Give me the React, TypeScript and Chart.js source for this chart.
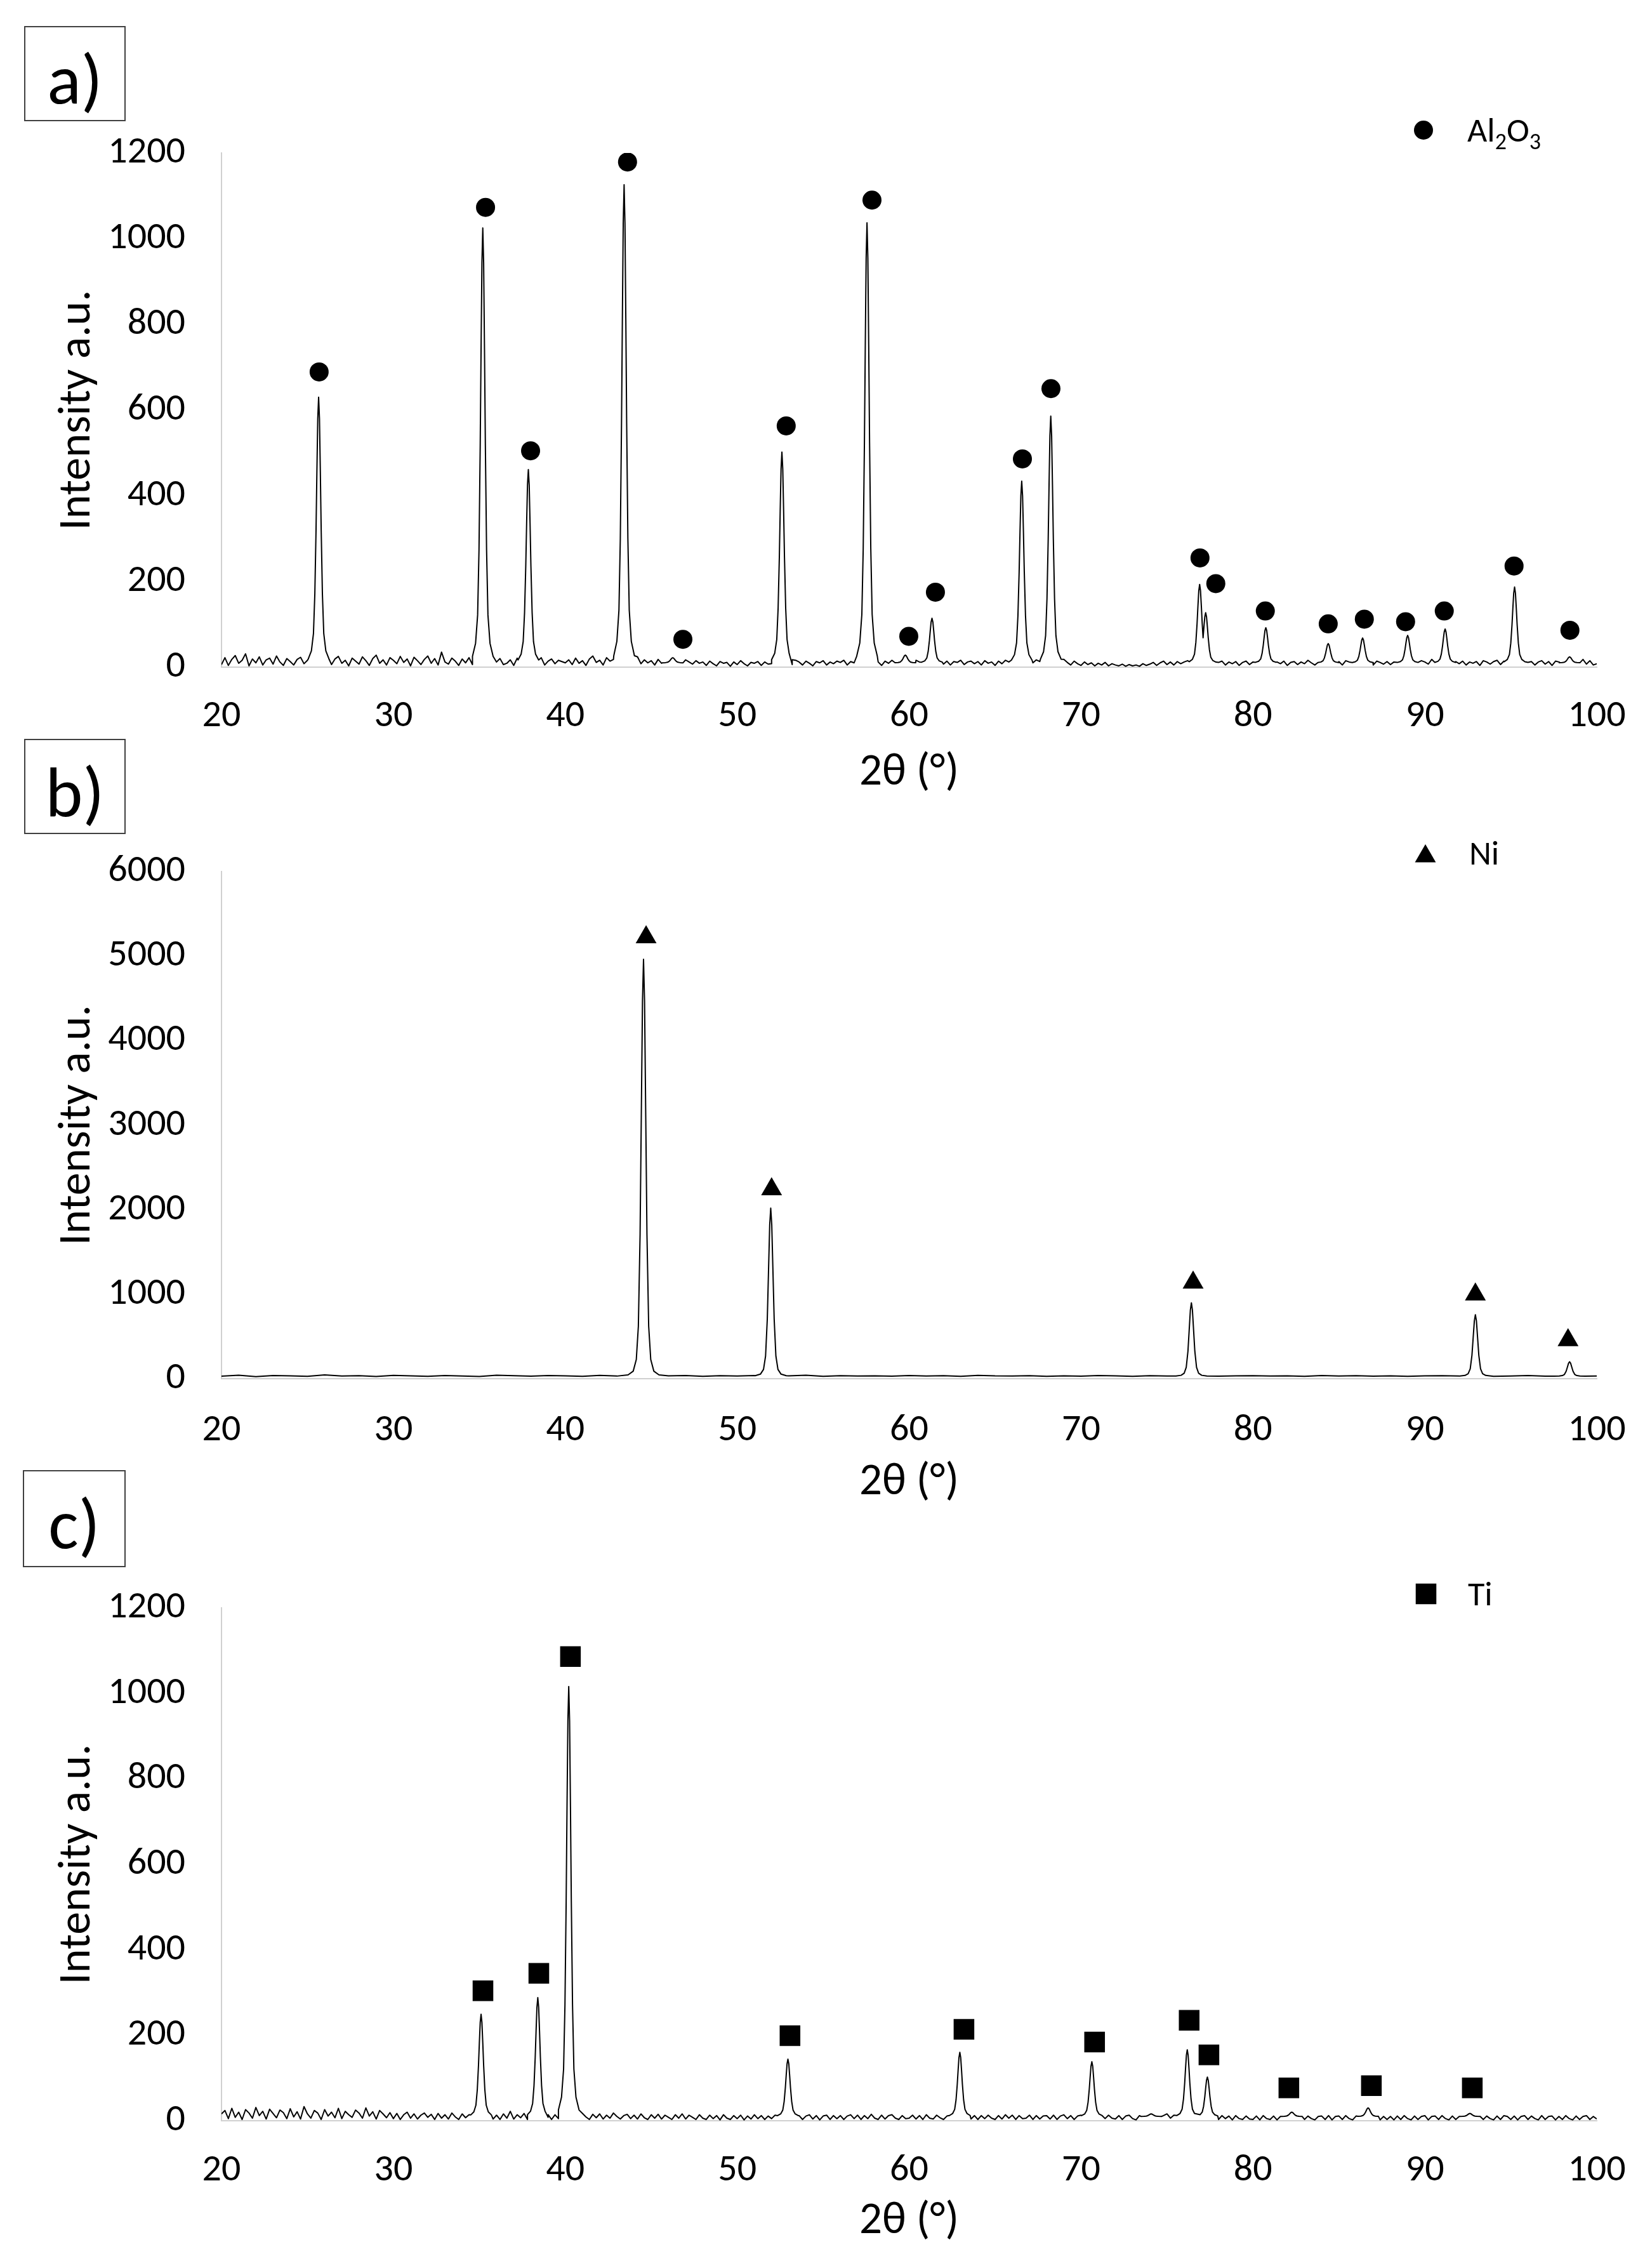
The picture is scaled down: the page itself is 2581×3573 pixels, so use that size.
import React, { useEffect, useRef } from 'react';
import { Chart, registerables } from 'chart.js';

Chart.register(...registerables);

const FONT = 'Carlito, Calibri, Lato, "Open Sans", sans-serif';
const AXIS_COLOR = '#d0d0d0';
const TEXT_COLOR = '#000000';

// ---------- shared axis values ----------
const X_MIN = 20;
const X_MAX = 100;
const X_STEP = 10;
const X_TITLE = '2θ (°)';
const Y_TITLE = 'Intensity a.u.';

// ---------- peak shape (offset in degrees, fraction of peak height) ----------
const PEAK_OFFSETS = [-0.6, -0.42, -0.3, -0.22, -0.15, -0.1, -0.05, 0, 0.05, 0.1, 0.15, 0.22, 0.3, 0.42, 0.6];
const PEAK_SHAPE = [0.015, 0.045, 0.11, 0.26, 0.5, 0.72, 0.92, 1, 0.92, 0.72, 0.5, 0.26, 0.11, 0.045, 0.015];
const NI_PEAK_OFFSETS = [-0.9, -0.6, -0.42, -0.3, -0.2, -0.13, -0.06, 0, 0.06, 0.13, 0.2, 0.3, 0.42, 0.6, 0.9];
const NI_PEAK_SHAPE = [0.003, 0.012, 0.04, 0.12, 0.34, 0.62, 0.9, 1, 0.9, 0.62, 0.34, 0.12, 0.04, 0.012, 0.003];

// ---------- panel a : Al2O3 ----------
const A_PHASE = 'Al2O3';
const A_Y_MAX = 1200;
const A_Y_STEP = 200;
const A_BASE_START = 20;
const A_BASE_STEP = 0.2;
const A_BASELINE = [
  6, 22, 4, 18, 27, 9, 16, 31, 3, 19, 10, 24, 5, 17, 21, 7, 26, 12, 4, 20,
  13, 5, 18, 23, 8, 16, 12, 20, 4, 22, 11, 17, 6, 19, 25, 9, 16, 3, 21, 14,
  7, 24, 15, 4, 20, 28, 9, 17, 5, 22, 16, 8, 25, 11, 19, 3, 23, 15, 6, 18,
  26, 9, 20, 5, 35, 12, 7, 21, 14, 4, 19, 10, 22, 6, 16, 24, 8, 18, 5, 15,
  12, 20, 6, 9, 17, 4, 21, 13, 16, 7, 18, 12, 15, 22, 5, 14, 19, 8, 16, 13,
  10, 17, 6, 21, 9, 15, 4, 19, 26, 11, 16, 5, 22, 14, 18, 7, 13, 20, 12, 15,
  19, 24, 8, 17, 10, 15, 5, 18, 9, 14, 20, 6, 16, 13, 4, 17, 12, 7, 15, 9,
  12, 4, 14, 8, 3, 13, 9, 11, 2, 12, 6, 15, 8, 3, 11, 9, 13, 4, 12, 7,
  8, 13, 4, 15, 11, 14, 6, 16, 12, 5, 14, 9, 3, 13, 10, 15, 5, 12, 8, 14,
  11, 16, 5, 13, 10, 18, 7, 12, 17, 6, 15, 12, 4, 14, 9, 16, 13, 6, 15, 12,
  14, 6, 16, 12, 18, 8, 13, 4, 15, 11, 7, 14, 5, 13, 11, 16, 6, 12, 14, 8,
  13, 5, 15, 9, 12, 4, 14, 8, 16, 12, 6, 13, 9, 15, 5, 14, 10, 17, 13, 7,
  12, 15, 6, 14, 9, 18, 11, 5, 14, 8, 4, 12, 6, 10, 3, 9, 5, 11, 3, 8,
  5, 3, 7, 2, 6, 3, 5, 2, 8, 4, 7, 11, 4, 10, 14, 6, 12, 5, 13, 8,
  12, 15, 8, 18, 14, 20, 17, 22, 16, 9, 11, 14, 5, 12, 8, 13, 4, 11, 14, 6,
  12, 6, 15, 9, 19, 13, 5, 12, 8, 14, 4, 11, 13, 6, 12, 8, 16, 10, 5, 13,
  9, 12, 14, 6, 9, 13, 5, 15, 12, 4, 14, 8, 13, 6, 12, 5, 14, 11, 7, 13,
  6, 12, 9, 14, 5, 13, 8, 12, 4, 15, 12, 7, 18, 13, 6, 14, 9, 12, 5, 13,
  8, 14, 5, 12, 9, 13, 4, 15, 12, 7, 13, 16, 6, 14, 9, 13, 5, 15, 12, 8,
  11, 13, 5, 12, 15, 7, 13, 4, 14, 12, 6, 13, 16, 9, 24, 14, 18, 7, 15, 5,
  8,
];
const A_PEAK_BASE = 10;
const A_PEAK_POS = [25.65, 35.2, 37.85, 43.42, 46.25, 52.6, 57.55, 59.78, 61.33, 66.55, 68.24, 76.9, 77.25, 80.75, 84.38, 86.38, 89.0, 91.18, 95.22, 98.42];
const A_PEAK_INT = [630, 1025, 461, 1126, 22, 502, 1037, 28, 114, 434, 586, 193, 127, 92, 55, 68, 74, 89, 187, 24];
const A_MARK_X = [25.68, 35.36, 37.98, 43.62, 46.84, 52.85, 57.84, 59.98, 61.53, 66.59, 68.25, 76.92, 77.84, 80.72, 84.38, 86.48, 88.88, 91.13, 95.19, 98.44];
const A_MARK_Y = [689, 1073, 505, 1179, 65, 563, 1090, 72, 175, 486, 650, 255, 195, 131, 101, 112, 106, 131, 236, 86];

// ---------- panel b : Ni ----------
const B_PHASE = 'Ni';
const B_Y_MAX = 6000;
const B_Y_STEP = 1000;
const B_BASE_START = 20;
const B_BASE_STEP = 1;
const B_BASELINE = [
  30, 42, 25, 38, 33, 28, 45, 31, 36, 27, 40, 34, 29, 37, 32, 26, 41, 35, 30, 38,
  33, 29, 39, 31, 36, 30, 34, 38, 28, 35, 32, 37, 30, 33, 41, 29, 36, 31, 34, 30,
  38, 32, 35, 29, 40, 33, 31, 36, 28, 34, 30, 37, 33, 29, 35, 31, 38, 32, 30, 34,
  36, 31, 33, 29, 37, 32, 35, 30, 34, 28, 33, 36, 31, 35, 29, 32, 37, 30, 33, 31,
  32,
];
const B_PEAK_BASE = 30;
const B_PEAK_POS = [44.55, 51.95, 76.42, 92.94, 98.42];
const B_PEAK_INT = [4962, 2018, 898, 757, 200];
const B_MARK_X = [44.7, 52.0, 76.52, 92.94, 98.33];
const B_MARK_Y = [5222, 2242, 1137, 997, 457];

// ---------- panel c : Ti ----------
const C_PHASE = 'Ti';
const C_Y_MAX = 1200;
const C_Y_STEP = 200;
const C_BASE_START = 20;
const C_BASE_STEP = 0.2;
const C_BASELINE = [
  16, 24, 5, 29, 8, 20, 3, 26, 18, 6, 31, 12, 22, 4, 27, 17, 7, 25, 19, 5,
  28, 9, 21, 4, 33, 16, 6, 24, 18, 3, 26, 11, 20, 7, 29, 5, 22, 14, 8, 25,
  18, 6, 30, 11, 21, 4, 24, 16, 7, 19, 5, 17, 3, 14, 20, 6, 16, 4, 13, 18,
  8, 15, 3, 17, 6, 14, 4, 18, 9, 3, 16, 7, 14, 2, 13, 15, 5, 10, 14, 4,
  13, 3, 16, 6, 22, 4, 14, 7, 17, 3, 15, 6, 13, 4, 16, 8, 3, 14, 5, 13,
  7, 15, 4, 14, 6, 17, 9, 3, 15, 7, 16, 4, 13, 6, 18, 10, 4, 12, 15, 5,
  13, 4, 16, 7, 3, 14, 6, 15, 4, 13, 8, 3, 14, 6, 16, 4, 13, 8, 3, 14,
  6, 3, 13, 5, 12, 2, 14, 6, 3, 12, 5, 13, 2, 11, 4, 14, 5, 12, 3, 11,
  5, 13, 3, 12, 6, 2, 13, 5, 12, 3, 11, 14, 4, 12, 2, 11, 13, 3, 12, 5,
  12, 3, 11, 14, 5, 13, 3, 12, 5, 15, 6, 3, 13, 4, 12, 14, 6, 3, 12, 5,
  6, 13, 4, 12, 3, 14, 6, 4, 13, 7, 3, 11, 14, 5, 12, 3, 13, 6, 4, 12,
  3, 12, 5, 13, 6, 3, 12, 4, 14, 6, 13, 3, 12, 5, 6, 13, 3, 12, 4, 11,
  12, 4, 13, 3, 11, 14, 5, 12, 3, 11, 13, 4, 12, 2, 11, 3, 12, 5, 13, 6,
  4, 12, 3, 11, 13, 5, 2, 12, 4, 14, 6, 3, 13, 5, 12, 16, 6, 13, 4, 14,
  12, 4, 13, 6, 16, 3, 12, 5, 11, 13, 3, 12, 5, 11, 2, 12, 5, 3, 11, 4,
  3, 11, 2, 12, 5, 3, 11, 2, 10, 12, 3, 11, 5, 2, 12, 3, 11, 5, 2, 10,
  11, 3, 12, 2, 10, 11, 3, 12, 5, 2, 11, 13, 3, 10, 12, 3, 11, 2, 10, 3,
  10, 2, 11, 3, 12, 5, 2, 11, 3, 10, 12, 2, 10, 11, 3, 12, 5, 2, 11, 3,
  10, 12, 3, 11, 2, 10, 12, 3, 11, 5, 2, 11, 3, 12, 10, 3, 11, 2, 10, 12,
  3, 11, 5, 2, 12, 3, 10, 11, 2, 10, 3, 12, 5, 2, 11, 3, 10, 12, 3, 10,
  4,
];
const C_PEAK_BASE = 10;
const C_PEAK_POS = [35.1, 38.4, 40.2, 52.95, 62.95, 70.63, 74.08, 76.18, 77.35, 82.26, 86.7, 92.62];
const C_PEAK_INT = [249, 288, 1016, 144, 160, 138, 16, 166, 102, 20, 30, 17];
const C_MARK_X = [35.21, 38.46, 40.3, 53.07, 63.19, 70.79, 76.29, 77.44, 82.09, 86.89, 92.76];
const C_MARK_Y = [304, 345, 1086, 199, 214, 184, 235, 154, 77, 82, 77];

type Pt = { x: number; y: number };

function buildProfile(
  baseline: number[], start: number, step: number,
  pos: number[], inten: number[], offs: number[], shape: number[], base: number
): Pt[] {
  const reach = Math.max(...offs.map(Math.abs));
  const pts: Pt[] = [];
  baseline.forEach((v, i) => {
    const x = +(start + i * step).toFixed(3);
    if (pos.every((p) => Math.abs(x - p) >= reach)) pts.push({ x, y: v });
  });
  pos.forEach((p, k) => {
    offs.forEach((o, j) => {
      const x = p + o;
      const nearest = pos.every((q, m) => m === k || Math.abs(x - q) > Math.abs(o));
      if (nearest) pts.push({ x, y: base + (inten[k] - base) * shape[j] });
    });
  });
  return pts.sort((a, b) => a.x - b.x);
}

function zipPts(xs: number[], ys: number[]): Pt[] {
  return xs.map((x, i) => ({ x, y: ys[i] }));
}

function drawMarker(ctx: CanvasRenderingContext2D, style: string, x: number, y: number, r: number) {
  ctx.beginPath();
  if (style === 'circle') {
    ctx.arc(x, y, r, 0, Math.PI * 2);
  } else if (style === 'triangle') {
    ctx.moveTo(x, y - r);
    ctx.lineTo(x + r * 0.866, y + r * 0.5);
    ctx.lineTo(x - r * 0.866, y + r * 0.5);
    ctx.closePath();
  } else {
    const s = r * Math.SQRT1_2;
    ctx.rect(x - s, y - s, 2 * s, 2 * s);
  }
  ctx.fill();
}

const phaseLegend = {
  id: 'phaseLegend',
  afterDraw(chart: any, _args: any, opts: any) {
    const ctx: CanvasRenderingContext2D = chart.ctx;
    const ds = chart.data.datasets[1];
    ctx.save();
    ctx.fillStyle = '#000';
    drawMarker(ctx, opts.style, opts.x, opts.y, opts.radius);
    ctx.fillStyle = TEXT_COLOR;
    ctx.textBaseline = 'alphabetic';
    ctx.textAlign = 'left';
    let tx = opts.textX;
    const by = opts.textY;
    for (const ch of String(ds.label)) {
      const sub = /[0-9]/.test(ch);
      ctx.font = `${sub ? opts.subSize : opts.size}px ${FONT}`;
      ctx.fillText(ch, tx, sub ? by + opts.subDy : by);
      tx += ctx.measureText(ch).width;
    }
    ctx.restore();
  },
};

type Spec = {
  box: string; boxLeft: number; boxTop: number; boxW: number; boxH: number;
  top: number; height: number; padTop: number; xHeight: number; xTickPad: number; xTitlePad: number;
  yMax: number; yStep: number; profile: Pt[]; marks: Pt[]; phase: string;
  style: string; radius: number; legX: number; legY: number; legTextX: number; legTextY: number;
};

const SPECS: Spec[] = [
  {
    box: 'a)', boxLeft: 38, boxTop: 41, boxW: 160, boxH: 150,
    top: 0, height: 1280, padTop: 241, xHeight: 229, xTickPad: 42, xTitlePad: 19,
    yMax: A_Y_MAX, yStep: A_Y_STEP,
    profile: buildProfile(A_BASELINE, A_BASE_START, A_BASE_STEP, A_PEAK_POS, A_PEAK_INT, PEAK_OFFSETS, PEAK_SHAPE, A_PEAK_BASE),
    marks: zipPts(A_MARK_X, A_MARK_Y), phase: A_PHASE,
    style: 'circle', radius: 15, legX: 2243, legY: 205, legTextX: 2312, legTextY: 223,
  },
  {
    box: 'b)', boxLeft: 38, boxTop: 1164, boxW: 160, boxH: 150,
    top: 1280, height: 1110, padTop: 83, xHeight: 218, xTickPad: 46, xTitlePad: 11,
    yMax: B_Y_MAX, yStep: B_Y_STEP,
    profile: buildProfile(B_BASELINE, B_BASE_START, B_BASE_STEP, B_PEAK_POS, B_PEAK_INT, NI_PEAK_OFFSETS, NI_PEAK_SHAPE, B_PEAK_BASE),
    marks: zipPts(B_MARK_X, B_MARK_Y), phase: B_PHASE,
    style: 'triangle', radius: 19, legX: 2246, legY: 69, legTextX: 2315, legTextY: 82,
  },
  {
    box: 'c)', boxLeft: 36, boxTop: 2316, boxW: 162, boxH: 153,
    top: 2400, height: 1173, padTop: 133, xHeight: 232, xTickPad: 43, xTitlePad: 30,
    yMax: C_Y_MAX, yStep: C_Y_STEP,
    profile: buildProfile(C_BASELINE, C_BASE_START, C_BASE_STEP, C_PEAK_POS, C_PEAK_INT, PEAK_OFFSETS, PEAK_SHAPE, C_PEAK_BASE),
    marks: zipPts(C_MARK_X, C_MARK_Y), phase: C_PHASE,
    style: 'rect', radius: 23, legX: 2247, legY: 111, legTextX: 2313, legTextY: 129,
  },
];

function makeConfig(s: Spec): any {
  return {
    type: 'scatter',
    data: {
      datasets: [
        {
          label: 'pattern', data: s.profile, showLine: true, borderColor: '#000', borderWidth: 2,
          pointRadius: 0, pointHoverRadius: 0, borderJoinStyle: 'round', tension: 0, order: 2,
        },
        {
          label: s.phase, data: s.marks, showLine: false, pointStyle: s.style, pointRadius: s.radius,
          pointHoverRadius: s.radius, backgroundColor: '#000', borderColor: '#000', borderWidth: 0, order: 1,
        },
      ],
    },
    options: {
      responsive: false, maintainAspectRatio: false, animation: false, devicePixelRatio: 1, events: [],
      layout: { padding: { left: 0, right: 65, top: s.padTop, bottom: 0 } },
      plugins: {
        legend: { display: false },
        tooltip: { enabled: false },
        phaseLegend: {
          style: s.style, radius: s.radius, x: s.legX, y: s.legY, textX: s.legTextX, textY: s.legTextY,
          size: 54, subSize: 36, subDy: 12,
        },
      },
      scales: {
        x: {
          type: 'linear', min: X_MIN, max: X_MAX,
          afterFit: (sc: any) => { sc.height = s.xHeight; sc.paddingLeft = 0; sc.paddingRight = 0; },
          grid: { display: false, drawTicks: false },
          border: { display: true, color: AXIS_COLOR, width: 2 },
          ticks: {
            stepSize: X_STEP, autoSkip: false, maxRotation: 0, padding: s.xTickPad, color: TEXT_COLOR,
            font: { family: FONT, size: 60 }, callback: (v: any) => String(v),
          },
          title: {
            display: true, text: X_TITLE, color: TEXT_COLOR, font: { family: FONT, size: 71, lineHeight: 1.2 },
            padding: { top: 0, bottom: s.xTitlePad },
          },
        },
        y: {
          type: 'linear', min: 0, max: s.yMax,
          afterFit: (sc: any) => { sc.width = 349; },
          grid: { display: false, drawTicks: false },
          border: { display: true, color: AXIS_COLOR, width: 2 },
          ticks: {
            stepSize: s.yStep, padding: 57, color: TEXT_COLOR,
            font: { family: FONT, size: 60 }, callback: (v: any) => String(v),
          },
          title: {
            display: true, text: Y_TITLE, color: TEXT_COLOR, font: { family: FONT, size: 72, lineHeight: 1.2 },
            padding: { top: 80, bottom: 0 },
          },
        },
      },
    },
    plugins: [phaseLegend],
  };
}

function PanelChart({ spec }: { spec: Spec }) {
  const ref = useRef<HTMLCanvasElement>(null);
  useEffect(() => {
    const chart = new Chart(ref.current as HTMLCanvasElement, makeConfig(spec));
    return () => chart.destroy();
  }, [spec]);
  return (
    <canvas
      ref={ref}
      width={2581}
      height={spec.height}
      style={{ position: 'absolute', left: 0, top: spec.top, width: 2581, height: spec.height }}
    />
  );
}

export default function App() {
  return (
    <div style={{ position: 'absolute', left: 0, top: 0, width: 2581, height: 3573, background: '#fff', overflow: 'hidden' }}>
      {SPECS.map((s) => (
        <PanelChart key={s.box} spec={s} />
      ))}
      {SPECS.map((s) => (
        <div
          key={'box-' + s.box}
          style={{
            position: 'absolute', left: s.boxLeft, top: s.boxTop, width: s.boxW, height: s.boxH,
            boxSizing: 'border-box', border: '2px solid #404040', display: 'flex',
            alignItems: 'center', justifyContent: 'center', paddingTop: 17,
            fontFamily: FONT, fontSize: 112, lineHeight: 1, color: '#000',
          }}
        >
          {s.box}
        </div>
      ))}
    </div>
  );
}
